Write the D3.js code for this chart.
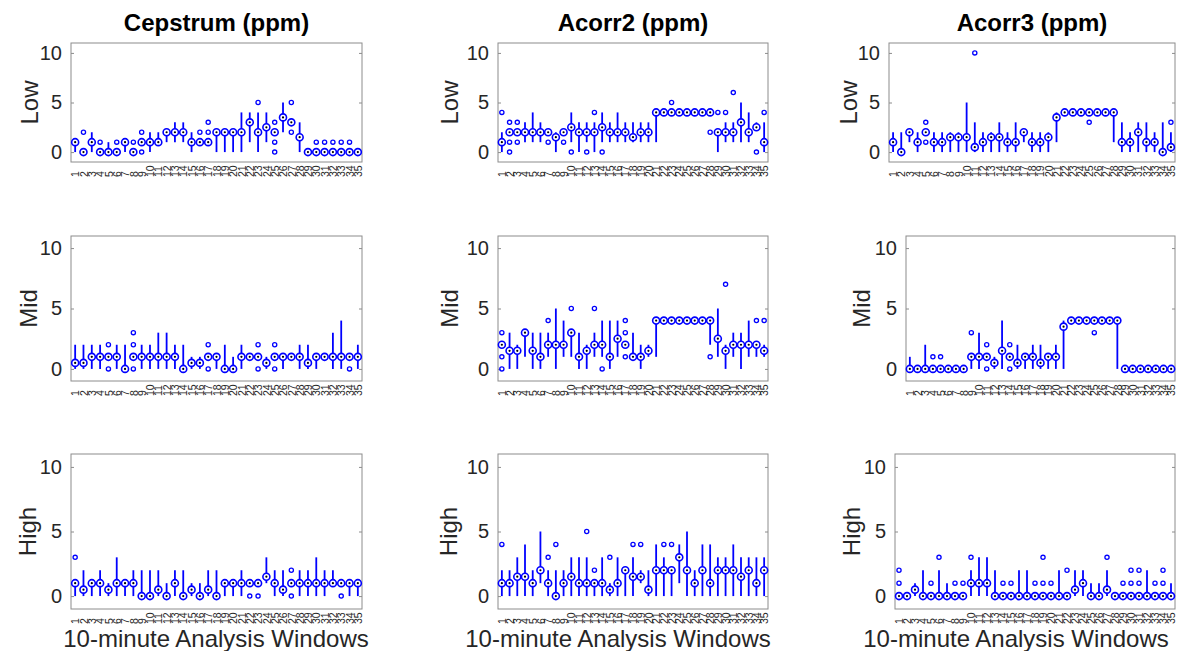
<!DOCTYPE html>
<html lang="en">
<head>
<meta charset="UTF-8">
<title>Boxplots per 10-minute window</title>
<script src="https://cdn.jsdelivr.net/npm/d3@7/dist/d3.min.js"></script>
<style>
  body { margin: 0; background: #fff; }
  svg text { font-family: "Liberation Sans", Arial, Helvetica, sans-serif; }
</style>
</head>
<body>
<svg id="chart" width="1191" height="651"></svg>
<script>
// categories: 10-minute analysis windows
const windows = [1,2,3,4,5,6,7,8,9,10,11,12,13,14,15,16,17,18,19,20,21,22,23,24,25,26,27,28,29,30,31,32,33,34,35];
const methods = ["Cepstrum (ppm)", "Acorr2 (ppm)", "Acorr3 (ppm)"];
const levels = ["Low", "Mid", "High"];
const yTicks = [0, 5, 10];

// --- Cepstrum, Low
const cepLowMed = [1,0,1,0,0,0,1,0,1,1, 1,2,2,2,1,1,1,2,2,2, 2,3,2,2.5,2,3.5,3,1.5,0,0, 0,0,0,0,0];
const cepLowLo  = [0,0,0,0,0,0,0,0,1,0, 1,1,1,1,0,1,1,0,0,0, 0,1,0,1,2,2,3,0,0,0, 0,0,0,0,0];
const cepLowHi  = [1,0,2,0,1,0,1,0,1,2, 2,2,3,3,2,1,1,2,2,2, 4,4,4,4,2,5,3,3,0,0, 0,0,0,0,0];
const cepLowOut = [[],[2],[],[1],[],[1],[],[1],[2,0],[], [],[],[],[],[],[2],[2,3],[],[],[],
                   [],[],[5],[],[3,1,0],[],[5,2],[],[],[1], [1],[1],[1],[1],[]];
// --- Acorr2, Low
const ac2LowMed = [1,2,2,2,2,2,2,1.5,2,2.5, 2,2,2,2.5,2,2,2,1.5,2,2, 4,4,4,4,4,4,4,4,2,2, 2,3,2,2.5,1];
const ac2LowLo  = [0,2,2,1,1,1,2,0,2,1, 0,1,0,1,1,1,1,1,1,1, 1,4,4,4,4,4,4,4,0,1, 1,1,1,2.5,0];
const ac2LowHi  = [2,2,2,3,4,3,2,2,2,4, 3,3,3,4,3,4,3,3,3,3, 4,4,4,4,4,4,4,4,2,3, 3,5,4,3,3];
const ac2LowOut = [[4],[3,1,0],[3,1],[],[],[],[1],[],[1],[0], [],[0],[4],[0],[],[],[],[],[],[],
                   [],[],[5],[],[],[],[],[2],[4],[4], [6],[],[],[0],[4]];
// --- Acorr3, Low
const ac3LowMed = [1,0,2,1,2,1,1,1.5,1.5,1.5, 0.5,1,1.5,1.5,1,1,2,1,1,1.5, 3.5,4,4,4,4,4,4,4,1,1, 2,1,1,0,0.5];
const ac3LowLo  = [0,0,1,0,2,0,0,0,0,0, 0,0,0,0,0,0,1,0,0,0, 1,4,4,4,4,4,4,1,0,0, 0,0,0,0,0];
const ac3LowHi  = [2,2,2,2,2,2,2,2,2,5, 3,2,2,3,2,3,2,2,2,2, 4,4,4,4,4,4,4,4,3,2, 3,3,2,3,2];
const ac3LowOut = [[],[],[],[],[3,1],[],[],[],[],[], [10],[],[],[],[],[],[],[],[],[],
                   [],[],[],[],[3],[],[],[],[],[], [],[],[],[],[3]];

// --- Cepstrum, Mid
const cepMidMed = [0.5,0.5,1,1,1,1,0,1,1,1, 1,1,1,0,0.5,0.5,1,1,0,0, 1,1,1,0.5,1,1,1,1,0.5,1, 1,1,1,1,1];
const cepMidLo  = [0,0,0,0,1,0,0,1,0,0, 0,0,0,0,0,0,1,0,0,0, 0,1,1,0,1,0,1,0,0,0, 1,0,0,1,0];
const cepMidHi  = [2,2,2,2,1,2,2,1,2,2, 3,3,2,2,1,1,1,1,2,1, 2,1,1,1,1,1,1,2,2,1, 1,3,4,1,2];
const cepMidOut = [[],[],[],[],[2,0],[],[],[3,2,0],[],[], [],[],[],[],[],[],[2,0],[],[],[],
                   [],[],[2,0],[],[2,0],[],[],[],[],[], [],[],[],[0],[]];
// --- Acorr2, Mid
const ac2MidMed = [2,1.5,1.5,3,1.5,1,2,2,2,3, 1,1.5,2,2,1,2.5,2,1,1,1.5, 4,4,4,4,4,4,4,4,2.5,1.5, 2,2,2,2,1.5];
const ac2MidLo  = [2,0,0,1,0,0,1,0,1,1, 0,0,1,1,0,1,2,1,0,1, 1,4,4,4,4,4,4,2,1,0, 1,0,1,1,1];
const ac2MidHi  = [2,3,2,3,3,3,3,5,4,3, 3,2,3,4,4,4,2,3,2,2, 4,4,4,4,4,4,4,4,5,2, 3,3,4,2,2];
const ac2MidOut = [[3,1,0],[],[],[],[],[],[4],[],[],[5], [],[],[5],[0],[],[],[4,3,1],[],[],[],
                   [],[],[],[],[],[],[],[1],[],[7], [],[],[],[4],[4]];
// --- Acorr3, Mid
const ac3MidMed = [0,0,0,0,0,0,0,0,1,1, 1,0.5,1.5,1,0.5,1,1,0.5,1,1, 3.5,4,4,4,4,4,4,4,0,0, 0,0,0,0,0];
const ac3MidLo  = [0,0,0,0,0,0,0,0,0,0, 1,0,0,1,0,0,0,0,0,0, 0,4,4,4,4,4,4,0,0,0, 0,0,0,0,0];
const ac3MidHi  = [1,0,2,0,0,0,0,0,1,3, 1,1,4,1,2,1,2,2,1,2, 4,4,4,4,4,4,4,4,0,0, 0,0,0,0,0];
const ac3MidOut = [[],[],[],[1],[1],[],[],[],[3],[], [2,0],[],[],[2,0],[],[],[],[],[],[],
                   [],[],[],[],[3],[],[],[],[],[], [],[],[],[],[]];

// --- Cepstrum, High
const cepHighMed = [1,0.5,1,1,0.5,1,1,1,0,0, 0.5,0,1,0,0.5,0,0.5,0,1,1, 1,1,1,1.5,1,0.5,1,1,1,1, 1,1,1,1,1];
const cepHighLo  = [0,0,0,0,0,0,0,0,0,0, 0,0,0,0,0,0,0,0,0,0, 0,1,1,1,0,0,1,0,0,0, 0,1,1,0,0];
const cepHighHi  = [1,2,1,2,1,3,1,2,2,2, 2,1,2,2,1,1,2,2,1,1, 2,1,1,3,2,2,1,2,2,3, 2,2,1,1,1];
const cepHighOut = [[3],[],[],[],[],[],[],[],[],[], [],[],[],[],[],[],[],[],[],[],
                    [],[0],[0],[],[],[],[2,0],[],[],[], [],[],[0],[],[]];
// --- Acorr2, High
const ac2HighMed = [1,1,1.5,1.5,1,2,1,0,1,1.5, 1,1,1,1,0.5,1,2,1.5,1.5,0.5, 2,2,2,3,2,1,2,1,2,2, 2,1.5,2,1,2];
const ac2HighLo  = [0,0,0,0,0,1,0,0,0,0, 0,0,0,0,0,0,0,0,1,0, 0,0,0,1,0,0,0,0,0,0, 0,0,0,0,0];
const ac2HighHi  = [2,2,3,4,2,5,2,2,2,3, 3,3,1,3,1,3,2,3,2,2, 4,3,2,4,5,2,4,4,3,3, 4,3,3,3,3];
const ac2HighOut = [[4],[],[],[],[],[],[3],[4],[],[], [],[5],[2],[],[3],[],[],[4],[4],[],
                    [],[4],[4],[],[],[],[],[],[],[], [],[],[],[],[]];
// --- Acorr3, High
const ac3HighMed = [0,0,0.5,0,0,0,0,0,0,1, 1,1,0,0,0,0,0,0,0,0, 0,0,0.5,1,0,0,0.5,0,0,0, 0,0,0,0,0];
const ac3HighLo  = [0,0,0,0,0,0,0,0,0,0, 0,0,0,0,0,0,0,0,0,0, 0,0,0,0,0,0,0,0,0,0, 0,0,0,0,0];
const ac3HighHi  = [0,0,1,2,0,2,1,0,0,2, 3,3,2,0,0,2,2,0,0,0, 2,0,2,2,1,1,2,0,0,0, 0,2,0,0,1];
const ac3HighOut = [[2,1],[],[],[],[1],[3],[],[1],[1],[3], [],[],[],[1],[1],[],[],[1],[3,1],[1],
                    [],[2],[],[],[],[],[3],[],[1],[2,1], [2,1],[],[1],[2,1],[]];

const panels = [
  {row: 0, col: 0, med: cepLowMed,  lo: cepLowLo,  hi: cepLowHi,  out: cepLowOut},
  {row: 0, col: 1, med: ac2LowMed,  lo: ac2LowLo,  hi: ac2LowHi,  out: ac2LowOut},
  {row: 0, col: 2, med: ac3LowMed,  lo: ac3LowLo,  hi: ac3LowHi,  out: ac3LowOut},
  {row: 1, col: 0, med: cepMidMed,  lo: cepMidLo,  hi: cepMidHi,  out: cepMidOut},
  {row: 1, col: 1, med: ac2MidMed,  lo: ac2MidLo,  hi: ac2MidHi,  out: ac2MidOut},
  {row: 1, col: 2, med: ac3MidMed,  lo: ac3MidLo,  hi: ac3MidHi,  out: ac3MidOut},
  {row: 2, col: 0, med: cepHighMed, lo: cepHighLo, hi: cepHighHi, out: cepHighOut},
  {row: 2, col: 1, med: ac2HighMed, lo: ac2HighLo, hi: ac2HighHi, out: ac2HighOut},
  {row: 2, col: 2, med: ac3HighMed, lo: ac3HighLo, hi: ac3HighHi, out: ac3HighOut}
];

// axes boxes (pixel positions of each subplot)
const rowTop = [43, 236, 454];
const rowBottom = [162, 381, 609];
const colLeft = [[71, 498, 889], [71, 498, 906], [71, 498, 895]];
const colRight = [362, 768, 1175];
// label placement
const yLabelX = [[38, 458, 857], [37, 458, 870], [36, 457, 860]];
const xLabelX = [216, 618, 1016];

const blue = "#0000ff";
const svg = d3.select("#chart");

panels.forEach(p => {
  const L = colLeft[p.row][p.col], R = colRight[p.col];
  const T = rowTop[p.row], B = rowBottom[p.row];

  const x = d3.scaleLinear().domain([0.5, 35.5]).range([L, R]);
  const y = d3.scaleLinear().domain([-1, 11]).range([B, T]);

  const g = svg.append("g");

  // frame
  g.append("rect")
    .attr("x", L).attr("y", T)
    .attr("width", R - L).attr("height", B - T)
    .attr("fill", "none")
    .attr("stroke", "#8c8c8c")
    .attr("stroke-width", 1);

  // left y axis
  const ya = g.append("g")
    .attr("transform", `translate(${L},0)`)
    .call(d3.axisLeft(y).tickValues(yTicks).tickSize(-3).tickPadding(9));
  ya.select(".domain").remove();
  ya.selectAll("line").attr("stroke", "#8c8c8c");
  ya.selectAll("text")
    .attr("font-size", "20px")
    .attr("fill", "#262626");

  // right ticks (mirrored)
  const yr = g.append("g")
    .attr("transform", `translate(${R},0)`)
    .call(d3.axisRight(y).tickValues(yTicks).tickSize(-3).tickFormat(""));
  yr.select(".domain").remove();
  yr.selectAll("line").attr("stroke", "#8c8c8c");

  // window labels, rotated
  const xa = g.append("g")
    .attr("transform", `translate(0,${B})`)
    .call(d3.axisBottom(x).tickValues(windows).tickSize(0).tickFormat(d3.format("d")));
  xa.select(".domain").remove();
  xa.selectAll("text")
    .attr("transform", "rotate(-90)")
    .attr("x", -15)
    .attr("y", 0)
    .attr("dy", "0.35em")
    .attr("text-anchor", "start")
    .attr("font-size", "10.5px")
    .attr("fill", "#262626");

  const rows = windows.map((w, i) => ({w, med: p.med[i], lo: p.lo[i], hi: p.hi[i]}));

  // whiskers
  g.selectAll(".whisker")
    .data(rows.filter(d => d.hi > d.lo))
    .enter().append("line")
    .attr("class", "whisker")
    .attr("x1", d => x(d.w)).attr("x2", d => x(d.w))
    .attr("y1", d => y(d.lo)).attr("y2", d => y(d.hi))
    .attr("stroke", blue)
    .attr("stroke-width", 1.8);

  // outliers
  const outs = [];
  windows.forEach((w, i) => p.out[i].forEach(v => outs.push({w, v})));
  g.selectAll(".outlier")
    .data(outs)
    .enter().append("circle")
    .attr("class", "outlier")
    .attr("cx", d => x(d.w)).attr("cy", d => y(d.v))
    .attr("r", 2.1)
    .attr("fill", "none")
    .attr("stroke", blue)
    .attr("stroke-width", 1.3);

  // median markers
  g.selectAll(".med")
    .data(rows)
    .enter().append("circle")
    .attr("class", "med")
    .attr("cx", d => x(d.w)).attr("cy", d => y(d.med))
    .attr("r", 3.5)
    .attr("fill", "#fff")
    .attr("stroke", blue)
    .attr("stroke-width", 1.6);
  g.selectAll(".meddot")
    .data(rows)
    .enter().append("circle")
    .attr("class", "meddot")
    .attr("cx", d => x(d.w)).attr("cy", d => y(d.med))
    .attr("r", 1.1)
    .attr("fill", "#000");

  // y label
  g.append("text")
    .attr("transform", `translate(${yLabelX[p.row][p.col]},${(T + B) / 2}) rotate(-90)`)
    .attr("text-anchor", "middle")
    .attr("font-size", "24px")
    .attr("fill", "#262626")
    .text(levels[p.row]);

  if (p.row === 0) {
    g.append("text")
      .attr("x", (L + R) / 2).attr("y", 31)
      .attr("text-anchor", "middle")
      .attr("font-size", "24px")
      .attr("font-weight", "bold")
      .attr("fill", "#000")
      .text(methods[p.col]);
  }
  if (p.row === 2) {
    g.append("text")
      .attr("x", xLabelX[p.col]).attr("y", 647)
      .attr("text-anchor", "middle")
      .attr("font-size", "24px")
      .attr("fill", "#262626")
      .text("10-minute Analysis Windows");
  }
});
</script>
</body>
</html>
